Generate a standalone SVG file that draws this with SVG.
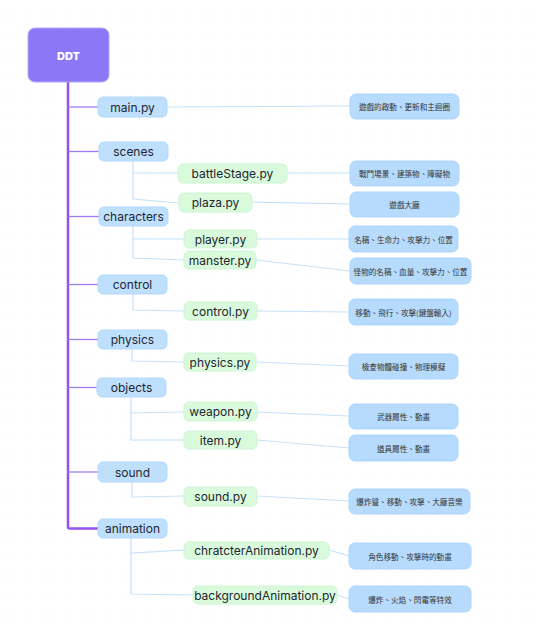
<svg xmlns="http://www.w3.org/2000/svg" width="536" height="636" viewBox="0 0 536 636">
<defs>
<pattern id="dots" x="1" y="10" width="13.333" height="13.333" patternUnits="userSpaceOnUse">
<rect x="-0.6" y="-0.6" width="1.3" height="1.3" fill="#dcdcdc"/>
</pattern>
<style>
.l1 rect{fill:#bfe0fd;stroke:#b3d8fb;stroke-width:1}
.l2 rect{fill:#d9fbdc;stroke:#cdf5d2;stroke-width:1}
.l3 rect{fill:#b7dbfc;stroke:#aed5fa;stroke-width:1}
.t{font-family:Inter,"Liberation Sans",sans-serif;font-size:12px;fill:#1e2430;text-anchor:middle;dominant-baseline:central}
.n{font-family:"Noto Sans CJK TC","Noto Sans",sans-serif;font-size:7.6px;fill:#333;text-anchor:middle;dominant-baseline:central}
.trunk{stroke:#9352f0;stroke-width:2.5;fill:none}
.br{stroke:#a27af3;stroke-width:1.3;fill:none}
.c{stroke:#c4e1fb;stroke-width:1.2;fill:none}
</style>
</defs>
<rect width="536" height="636" fill="#ffffff"/>
<rect width="536" height="636" fill="url(#dots)"/>

<g id="connectors">
<path class="trunk" d="M68 82 V527 Q68 528.5 70 528.5 H98"/>
<path class="br" d="M68 107 H98"/>
<path class="br" d="M68 151.5 H99"/>
<path class="br" d="M68 216.5 H99"/>
<path class="br" d="M68 284.5 H98"/>
<path class="br" d="M68 339.5 H98"/>
<path class="br" d="M68 387.5 H97"/>
<path class="br" d="M68 472 H98"/>
<path class="c" d="M133 161 V173 H178"/>
<path class="c" d="M133 173 V199 L179 203"/>
<path class="c" d="M133 226 V239 H184"/>
<path class="c" d="M133 239 V258 L184 260"/>
<path class="c" d="M133 294 V310 L184 311"/>
<path class="c" d="M132 349 V361 L184 362"/>
<path class="c" d="M131 397 V413 L184 412"/>
<path class="c" d="M131 413 V440 H184"/>
<path class="c" d="M132 482 V497 L184 496"/>
<path class="c" d="M131 538 V553 L184 550"/>
<path class="c" d="M131 553 V594 L193 595"/>
<path class="c" d="M167 107 L350 106"/>
<path class="c" d="M287 173 L350 173"/>
<path class="c" d="M252 202 L350 204"/>
<path class="c" d="M257 239 L349 239"/>
<path class="c" d="M256 260 L350 271"/>
<path class="c" d="M257 311 L349 312"/>
<path class="c" d="M256 362 L349 366"/>
<path class="c" d="M257 412 L349 416"/>
<path class="c" d="M257 440 L349 448"/>
<path class="c" d="M257 496 L349 501"/>
<path class="c" d="M329 550 L349 556"/>
<path class="c" d="M337 595 L349 599"/>
</g>

<g id="ddt">
<rect x="28" y="28" width="81" height="54" rx="7" fill="#8c78f6" stroke="#b3a6fa" stroke-width="1"/>
<text x="68.5" y="55.5" font-family="Inter,'Liberation Sans',sans-serif" font-size="11" font-weight="800" fill="#ffffff" text-anchor="middle" dominant-baseline="central">DDT</text>
</g>

<g id="main" class="l1"><rect x="98" y="97" width="69" height="20" rx="5"/><text class="t" x="132.5" y="107">main.py</text></g>
<g id="scenes" class="l1"><rect x="99" y="142" width="69" height="19" rx="5"/><text class="t" x="133.5" y="151.5">scenes</text></g>
<g id="characters" class="l1"><rect x="99" y="207" width="69" height="19" rx="5"/><text class="t" x="133.5" y="216.5">characters</text></g>
<g id="control" class="l1"><rect x="98" y="275" width="69" height="19" rx="5"/><text class="t" x="132.5" y="284.5">control</text></g>
<g id="physics" class="l1"><rect x="98" y="330" width="69" height="19" rx="5"/><text class="t" x="132.5" y="339.5">physics</text></g>
<g id="objects" class="l1"><rect x="97" y="378" width="69" height="19" rx="5"/><text class="t" x="131.5" y="387.5">objects</text></g>
<g id="sound" class="l1"><rect x="98" y="462" width="69" height="20" rx="5"/><text class="t" x="132.5" y="472">sound</text></g>
<g id="animation" class="l1"><rect x="98" y="519" width="69" height="19" rx="5"/><text class="t" x="132.5" y="528.5">animation</text></g>

<g id="battleStage" class="l2"><rect x="178" y="164" width="109" height="19" rx="5"/><text class="t" x="232.5" y="173.5">battleStage.py</text></g>
<g id="plaza" class="l2"><rect x="179" y="193" width="73" height="19" rx="5"/><text class="t" x="215.5" y="202.5">plaza.py</text></g>
<g id="player" class="l2"><rect x="184" y="230" width="73" height="18" rx="5"/><text class="t" x="220.5" y="239">player.py</text></g>
<g id="manster" class="l2"><rect x="184" y="251" width="72" height="18" rx="5"/><text class="t" x="220" y="260">manster.py</text></g>
<g id="controlpy" class="l2"><rect x="184" y="302" width="73" height="18" rx="5"/><text class="t" x="220.5" y="311">control.py</text></g>
<g id="physicspy" class="l2"><rect x="184" y="353" width="72" height="18" rx="5"/><text class="t" x="220" y="362">physics.py</text></g>
<g id="weapon" class="l2"><rect x="184" y="402" width="73" height="19" rx="5"/><text class="t" x="220.5" y="411.5">weapon.py</text></g>
<g id="item" class="l2"><rect x="184" y="431" width="73" height="18" rx="5"/><text class="t" x="220.5" y="440">item.py</text></g>
<g id="soundpy" class="l2"><rect x="184" y="487" width="73" height="19" rx="5"/><text class="t" x="220.5" y="496.5">sound.py</text></g>
<g id="chratcterAnimation" class="l2"><rect x="184" y="542" width="145" height="17" rx="5"/><text class="t" x="256.5" y="550.5">chratcterAnimation.py</text></g>
<g id="backgroundAnimation" class="l2"><rect x="193" y="586" width="144" height="18" rx="5"/><text class="t" x="265" y="595">backgroundAnimation.py</text></g>

<g id="note-main" class="l3"><rect x="350" y="94" width="109" height="25" rx="6"/><text class="n" x="404.5" y="106.5">遊戲的啟動、更新和主迴圈</text></g>
<g id="note-battleStage" class="l3"><rect x="350" y="161" width="109" height="25" rx="6"/><text class="n" x="404.5" y="173.5">戰鬥場景、建築物、障礙物</text></g>
<g id="note-plaza" class="l3"><rect x="350" y="192" width="109" height="25" rx="6"/><text class="n" x="404.5" y="204.5">遊戲大廳</text></g>
<g id="note-player" class="l3"><rect x="349" y="226" width="109" height="26" rx="6"/><text class="n" x="403.5" y="239">名稱、生命力、攻擊力、位置</text></g>
<g id="note-manster" class="l3"><rect x="350" y="258" width="121" height="26" rx="6"/><text class="n" x="410.5" y="271">怪物的名稱、血量、攻擊力、位置</text></g>
<g id="note-control" class="l3"><rect x="349" y="299" width="109" height="26" rx="6"/><text class="n" x="403.5" y="312">移動、飛行、攻擊(鍵盤輸入)</text></g>
<g id="note-physics" class="l3"><rect x="349" y="354" width="109" height="25" rx="6"/><text class="n" x="403.5" y="366.5">檢查物體碰撞、物理模擬</text></g>
<g id="note-weapon" class="l3"><rect x="349" y="404" width="109" height="25" rx="6"/><text class="n" x="403.5" y="416.5">武器屬性、動畫</text></g>
<g id="note-item" class="l3"><rect x="349" y="435" width="109" height="26" rx="6"/><text class="n" x="403.5" y="448">道具屬性、動畫</text></g>
<g id="note-sound" class="l3"><rect x="349" y="489" width="121" height="25" rx="6"/><text class="n" x="409.5" y="501.5">爆炸聲、移動、攻擊、大廳音樂</text></g>
<g id="note-chratcter" class="l3"><rect x="349" y="543" width="122" height="26" rx="6"/><text class="n" x="410" y="556">角色移動、攻擊時的動畫</text></g>
<g id="note-background" class="l3"><rect x="349" y="586" width="122" height="26" rx="6"/><text class="n" x="410" y="599">爆炸、火焰、閃電等特效</text></g>
</svg>
